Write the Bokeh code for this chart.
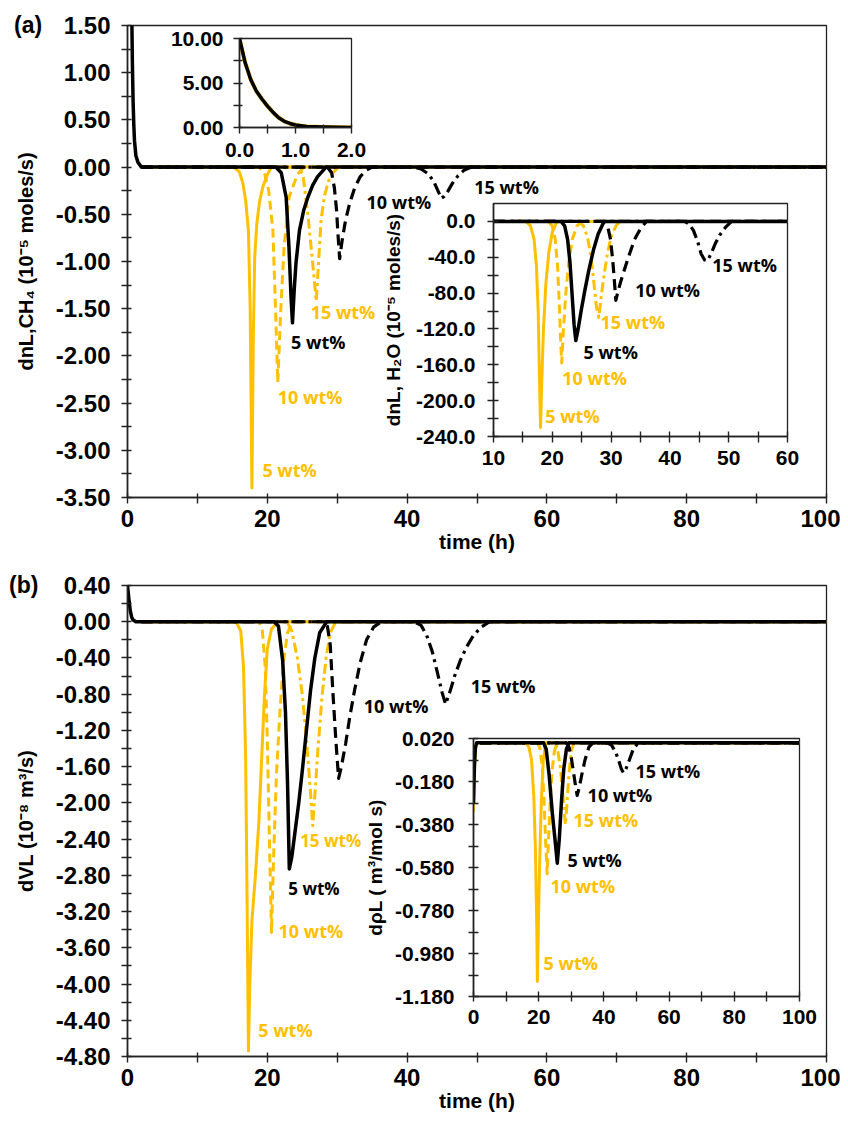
from bokeh.plotting import figure
from bokeh.models import Range1d, FixedTicker, NumeralTickFormatter, Label, GridBox, Div, Column
from bokeh.embed import file_html
from bokeh.resources import INLINE

# ---------------- data ----------------
# Panel (a): dn_L,CH4 (10^-5 moles/s) vs time (h)
A_T0 = [0, 0.1, 0.2, 0.3, 0.4, 0.5, 0.6, 0.7, 0.8, 0.9, 1.0, 1.2, 1.5, 2.0]
A_V0 = [10.0, 7.3, 5.4, 4.1, 3.2, 2.4, 1.7, 1.1, 0.7, 0.45, 0.28, 0.12, 0.05, 0.0]

A_Y5_T = [2, 15.2, 16.0, 16.5, 16.9, 17.3, 17.55, 17.8, 18.0, 18.2, 18.5, 18.9, 19.4, 20.0, 20.6, 100]
A_Y5_V = [0, 0, -0.05, -0.17, -0.35, -0.67, -1.5, -3.40, -1.8, -0.95, -0.6, -0.36, -0.2, -0.08, 0, 0]
A_Y10_T = [2, 18.8, 19.6, 20.2, 20.8, 21.2, 21.5, 21.9, 22.4, 23.1, 24.3, 25.2, 100]
A_Y10_V = [0, 0, -0.06, -0.25, -0.67, -1.55, -2.28, -1.55, -0.85, -0.32, -0.08, 0, 0]
A_Y15_T = [2, 24.4, 25.1, 25.8, 26.5, 27.0, 27.3, 27.7, 28.2, 28.8, 29.5, 30.2, 100]
A_Y15_V = [0, 0, -0.08, -0.5, -1.02, -1.42, -1.05, -0.55, -0.3, -0.14, -0.05, 0, 0]
A_B5_T = [2, 21.2, 22.0, 22.7, 23.1, 23.4, 23.6, 23.85, 24.1, 24.6, 25.2, 25.8, 26.5, 27.2, 28.4, 100]
A_B5_V = [0, 0, -0.06, -0.32, -0.85, -1.38, -1.65, -1.3, -1.02, -0.67, -0.46, -0.32, -0.19, -0.1, 0, 0]
A_B10_T = [2, 28.6, 29.2, 29.6, 29.9, 30.1, 30.35, 30.7, 31.2, 31.8, 32.5, 33.3, 34.2, 35.0, 100]
A_B10_V = [0, 0, -0.06, -0.22, -0.45, -0.7, -0.97, -0.78, -0.56, -0.38, -0.22, -0.1, -0.03, 0, 0]
A_B15_T = [2, 41.0, 42.0, 43.0, 43.8, 44.4, 44.9, 45.3, 45.8, 46.5, 47.3, 48.2, 49.2, 100]
A_B15_V = [0, 0, -0.02, -0.07, -0.15, -0.25, -0.33, -0.31, -0.26, -0.17, -0.09, -0.03, 0, 0]

# Inset of (a): dn_L,H2O (10^-5 moles/s)
W_Y5_T = [10, 15.5, 16.3, 16.9, 17.3, 17.6, 17.8, 18.0, 18.2, 18.5, 18.9, 19.4, 20.0, 20.8, 60]
W_Y5_V = [0, 0, -5, -20, -50, -100, -170, -230, -180, -120, -70, -35, -12, 0, 0]
W_Y10_T = [10, 19.3, 20.0, 20.5, 20.9, 21.2, 21.4, 21.6, 21.9, 22.3, 22.8, 23.4, 24.2, 25.0, 60]
W_Y10_V = [0, 0, -5, -20, -50, -95, -130, -158, -120, -80, -45, -20, -5, 0, 0]
W_Y15_T = [10, 24.5, 25.3, 26.0, 26.6, 27.1, 27.5, 27.9, 28.3, 28.8, 29.4, 30.1, 31.0, 32.0, 60]
W_Y15_V = [0, 0, -5, -18, -40, -70, -95, -107, -85, -60, -35, -15, -3, 0, 0]
W_B5_T = [10, 21.5, 22.1, 22.6, 23.0, 23.4, 23.7, 24.0, 24.4, 24.9, 25.5, 26.2, 27.0, 27.8, 28.8, 60]
W_B5_V = [0, 0, -5, -20, -45, -85, -115, -133, -120, -100, -78, -55, -32, -14, 0, 0]
W_B10_T = [10, 28.8, 29.4, 29.9, 30.3, 30.6, 30.8, 31.1, 31.6, 32.3, 33.1, 34.0, 35.0, 36.0, 60]
W_B10_V = [0, 0, -5, -20, -45, -70, -88, -80, -68, -53, -37, -20, -8, 0, 0]
W_B15_T = [10, 42.5, 43.3, 44.0, 44.7, 45.3, 45.9, 46.4, 47.0, 47.7, 48.5, 49.4, 50.5, 60]
W_B15_V = [0, 0, -3, -10, -22, -36, -43, -44, -36, -25, -15, -7, 0, 0]

# Panel (b): dV_L (10^-8 m3/s)
B_T0 = [0, 0.2, 0.4, 0.6, 0.8, 1.2, 2.0]
B_V0 = [0.40, 0.25, 0.12, 0.05, 0.02, 0.0, 0.0]
B_Y5_T = [2, 15.5, 16.2, 16.6, 16.9, 17.1, 17.3, 17.5, 17.8, 18.3, 18.8, 19.2, 19.6, 20.0, 20.6, 21.5, 100]
B_Y5_V = [0, 0, -0.1, -0.5, -1.5, -3.0, -4.74, -4.0, -3.3, -2.8, -2.2, -1.5, -0.8, -0.3, -0.08, 0, 0]
B_Y10_T = [2, 18.8, 19.3, 19.7, 20.0, 20.3, 20.6, 20.9, 21.3, 21.8, 22.3, 22.9, 23.6, 100]
B_Y10_V = [0, 0, -0.1, -0.5, -1.3, -2.4, -3.43, -2.6, -1.7, -1.0, -0.45, -0.12, 0, 0]
B_Y15_T = [2, 22.8, 23.5, 24.3, 25.0, 25.6, 26.1, 26.5, 26.9, 27.3, 27.8, 28.4, 29.0, 29.8, 100]
B_Y15_V = [0, 0, -0.1, -0.4, -0.8, -1.3, -1.8, -2.25, -1.8, -1.35, -0.85, -0.4, -0.12, 0, 0]
B_B5_T = [2, 21.0, 21.6, 22.2, 22.6, 22.9, 23.15, 23.5, 24.0, 24.5, 25.0, 25.6, 26.2, 26.8, 27.5, 28.5, 100]
B_B5_V = [0, 0, -0.05, -0.43, -1.0, -1.8, -2.73, -2.6, -2.3, -2.0, -1.65, -1.2, -0.75, -0.4, -0.12, 0, 0]
B_B10_T = [2, 28.0, 28.6, 29.0, 29.4, 29.8, 30.2, 30.6, 31.2, 31.8, 32.5, 33.3, 34.2, 35.2, 36.3, 100]
B_B10_V = [0, 0, -0.05, -0.25, -0.8, -1.3, -1.73, -1.6, -1.35, -1.05, -0.75, -0.45, -0.2, -0.06, 0, 0]
B_B15_T = [2, 41.0, 42.0, 42.8, 43.6, 44.3, 45.0, 45.5, 46.1, 46.8, 47.6, 48.5, 49.5, 50.6, 51.8, 100]
B_B15_V = [0, 0, -0.04, -0.15, -0.33, -0.55, -0.78, -0.91, -0.78, -0.6, -0.43, -0.28, -0.15, -0.06, 0, 0]

# Inset of (b): d rho_L (m3/mol s)
R_T0 = [0, 0.3, 0.6, 1.0, 2.0]
R_B0 = [-0.28, -0.1, -0.02, 0.0, 0.0]
R_Y0 = [-0.32, -0.12, -0.03, 0.0, 0.0]
R_Y5_T = [2, 16.0, 17.0, 17.8, 18.5, 19.0, 19.4, 19.6, 19.9, 20.3, 20.8, 21.4, 22.2, 100]
R_Y5_V = [0, 0, -0.02, -0.08, -0.25, -0.5, -0.85, -1.11, -0.85, -0.55, -0.28, -0.08, 0, 0]
R_Y10_T = [2, 19.5, 20.3, 21.0, 21.6, 22.1, 22.6, 23.0, 23.5, 24.1, 24.8, 25.6, 100]
R_Y10_V = [0, 0, -0.02, -0.1, -0.25, -0.45, -0.61, -0.45, -0.28, -0.13, -0.04, 0, 0]
R_Y15_T = [2, 25.0, 25.8, 26.5, 27.2, 27.7, 28.2, 28.7, 29.3, 30.0, 30.8, 100]
R_Y15_V = [0, 0, -0.03, -0.1, -0.2, -0.3, -0.38, -0.28, -0.14, -0.04, 0, 0]
R_B5_T = [2, 21.5, 22.3, 23.2, 24.2, 25.0, 25.7, 26.3, 27.0, 27.7, 28.5, 29.3, 100]
R_B5_V = [0, 0, -0.03, -0.15, -0.33, -0.45, -0.56, -0.45, -0.27, -0.12, -0.03, 0, 0]
R_B10_T = [2, 28.5, 29.3, 30.0, 30.7, 31.3, 31.8, 32.4, 33.2, 34.2, 35.4, 36.6, 100]
R_B10_V = [0, 0, -0.02, -0.07, -0.14, -0.2, -0.245, -0.21, -0.15, -0.08, -0.02, 0, 0]
R_B15_T = [2, 41.0, 42.3, 43.5, 44.5, 45.3, 46.0, 46.8, 47.8, 49.0, 50.5, 100]
R_B15_V = [0, 0, -0.01, -0.04, -0.08, -0.12, -0.14, -0.12, -0.08, -0.03, 0, 0]

# ticks
TIME_TICKS = [0, 20, 40, 60, 80, 100]
TIME_MINOR = [10, 30, 50, 70, 90]
A_YTICKS = [-3.5, -3.0, -2.5, -2.0, -1.5, -1.0, -0.5, 0.0, 0.5, 1.0, 1.5]
A_YMINOR = [-3.25, -2.75, -2.25, -1.75, -1.25, -0.75, -0.25, 0.25, 0.75, 1.25]
I1_XTICKS = [0, 1, 2]
I1_XMINOR = [0.5, 1.5]
I1_YTICKS = [0, 5, 10]
I1_YMINOR = [2.5, 7.5]
W_XTICKS = [10, 20, 30, 40, 50, 60]
W_XMINOR = [15, 25, 35, 45, 55]
W_YTICKS = [-240, -200, -160, -120, -80, -40, 0]
W_YMINOR = [-220, -180, -140, -100, -60, -20]
B_YTICKS = [0.4, 0.0, -0.4, -0.8, -1.2, -1.6, -2.0, -2.4, -2.8, -3.2, -3.6, -4.0, -4.4, -4.8]
B_YMINOR = [0.2, -0.2, -0.6, -1.0, -1.4, -1.8, -2.2, -2.6, -3.0, -3.4, -3.8, -4.2, -4.6]
R_YTICKS = [0.02, -0.18, -0.38, -0.58, -0.78, -0.98, -1.18]
R_YMINOR = [-0.08, -0.28, -0.48, -0.68, -0.88, -1.08]

GOLD = "#FFC000"
BLACK = "#000000"
FONT = "Liberation Sans"
ANNOT = "Open Sans"
MAIN_TICK = 24
INSET_TICK = 21


def make_fig(fw, fh, xr, yr, left, right, top, bottom, transparent):
    p = figure(frame_width=fw, frame_height=fh, x_range=Range1d(*xr), y_range=Range1d(*yr),
               output_backend="svg", toolbar_location=None, title=None,
               min_border_left=left, min_border_right=right,
               min_border_top=top, min_border_bottom=bottom)
    p.xgrid.visible = False
    p.ygrid.visible = False
    p.outline_line_color = "#222222"
    p.outline_line_width = 1.3
    p.background_fill_color = "white"
    p.border_fill_color = None if transparent else "white"
    p.xaxis[0].axis_label = None
    p.yaxis[0].axis_label = None
    return p


def style_axis(ax, ticks, minor, fmt, size, standoff, tin=4, tout=6):
    ax.ticker = FixedTicker(ticks=ticks, minor_ticks=minor)
    ax.formatter = NumeralTickFormatter(format=fmt)
    ax.major_label_text_font = FONT
    ax.major_label_text_font_style = "bold"
    ax.major_label_text_font_size = f"{size}px"
    ax.major_label_text_color = "black"
    ax.axis_line_color = "#222222"
    ax.axis_line_width = 1.6
    ax.major_tick_line_color = "#222222"
    ax.minor_tick_line_color = "#222222"
    ax.major_tick_line_width = 1.4
    ax.minor_tick_line_width = 1.4
    ax.major_tick_in = tin
    ax.major_tick_out = tout
    ax.minor_tick_in = tin
    ax.minor_tick_out = tout
    ax.major_label_standoff = standoff


def axis_label(ax, text, size, standoff):
    ax.axis_label = text
    ax.axis_label_text_font = FONT
    ax.axis_label_text_font_style = "bold"
    ax.axis_label_text_font_size = f"{size}px"
    ax.axis_label_text_color = "black"
    ax.axis_label_standoff = standoff


def curve(p, t, v, color, dash="solid", width=3.0):
    p.line(t, v, line_color=color, line_width=width, line_dash=dash,
           line_join="round", line_cap="butt")


def note(p, x, y, text, color, size=18):
    p.add_layout(Label(x=x, y=y, text=text, text_color=color, text_font=ANNOT,
                       text_font_style="bold", text_font_size=f"{size}px",
                       text_align="left", text_baseline="middle"))


def place(item, top, left):
    # wrap so that the grid does not align frames of overlapping plots
    return Column(children=[item], margin=(top, 0, 0, left))


def panel_tag(text, top, left):
    return Div(text=text, width=40, height=28, margin=(top, 0, 0, left),
               styles={"font-family": FONT, "font-weight": "bold", "font-size": "23px",
                       "line-height": "26px", "color": "black"})


DASH_Y = "9 5"
DASHDOT_Y = "10 4 3 4"
DASH_B = "11 6"
DASHDOT_B = "12 5 3 5"

# ---------------- panel (a) ----------------
pa = make_fig(699, 472, (0, 100), (-3.5, 1.5), 119, 14, 17, 66, False)
style_axis(pa.xaxis[0], TIME_TICKS, TIME_MINOR, "0", MAIN_TICK, 6)
style_axis(pa.yaxis[0], A_YTICKS, A_YMINOR, "0.00", MAIN_TICK, 11)
axis_label(pa.xaxis[0], "time (h)", 21, 0)
axis_label(pa.yaxis[0], "dnL,CH\u2084 (10\u207b\u2075 moles/s)", 20, 16)
curve(pa, A_Y5_T, A_Y5_V, GOLD, "solid", 3.0)
curve(pa, A_Y10_T, A_Y10_V, GOLD, DASH_Y, 3.0)
curve(pa, A_Y15_T, A_Y15_V, GOLD, DASHDOT_Y, 3.0)
curve(pa, A_B15_T, A_B15_V, BLACK, DASHDOT_B, 3.2)
curve(pa, A_B10_T, A_B10_V, BLACK, DASH_B, 3.2)
curve(pa, A_T0 + A_B5_T, A_V0 + A_B5_V, BLACK, "solid", 3.5)
note(pa, 34.2, -0.37, "10 wt%", BLACK)
note(pa, 49.6, -0.21, "15 wt%", BLACK)
note(pa, 26.2, -1.54, "15 wt%", GOLD)
note(pa, 23.4, -1.85, "5 wt%", BLACK)
note(pa, 21.5, -2.44, "10 wt%", GOLD)
note(pa, 19.3, -3.21, "5 wt%", GOLD)

# inset (a1): early-time CH4 transient
ia1 = make_fig(112, 89, (0, 2), (0, 10), 85, 20, 14, 45, True)
style_axis(ia1.xaxis[0], I1_XTICKS, I1_XMINOR, "0.0", INSET_TICK, 9, 3, 6)
style_axis(ia1.yaxis[0], I1_YTICKS, I1_YMINOR, "0.00", INSET_TICK, 10, 3, 6)
curve(ia1, A_T0, A_V0, GOLD, "solid", 4.0)
curve(ia1, A_T0, A_V0, BLACK, "solid", 3.5)

# inset (a2): H2O
ia2 = make_fig(294, 233, (10, 60), (-240, 20), 118, 20, 12, 45, True)
style_axis(ia2.xaxis[0], W_XTICKS, W_XMINOR, "0", INSET_TICK, 8, 5, 6)
style_axis(ia2.yaxis[0], W_YTICKS, W_YMINOR, "0.0", INSET_TICK, 12, 5, 6)
axis_label(ia2.yaxis[0], "dnL, H\u2082O (10\u207b\u2075 moles/s)", 19, 9)
curve(ia2, W_Y5_T, W_Y5_V, GOLD, "solid", 3.0)
curve(ia2, W_Y10_T, W_Y10_V, GOLD, DASH_Y, 3.0)
curve(ia2, W_Y15_T, W_Y15_V, GOLD, DASHDOT_Y, 3.0)
curve(ia2, W_B15_T, W_B15_V, BLACK, DASHDOT_B, 3.2)
curve(ia2, W_B10_T, W_B10_V, BLACK, DASH_B, 3.2)
curve(ia2, W_B5_T, W_B5_V, BLACK, "solid", 3.5)
note(ia2, 47.2, -49, "15 wt%", BLACK)
note(ia2, 34.1, -77, "10 wt%", BLACK)
note(ia2, 28.2, -112, "15 wt%", GOLD)
note(ia2, 25.3, -146, "5 wt%", BLACK)
note(ia2, 21.7, -175, "10 wt%", GOLD)
note(ia2, 18.8, -217, "5 wt%", GOLD)

# ---------------- panel (b) ----------------
pb = make_fig(699, 471, (0, 100), (-4.8, 0.4), 119, 14, 22, 64, False)
style_axis(pb.xaxis[0], TIME_TICKS, TIME_MINOR, "0", MAIN_TICK, 6)
style_axis(pb.yaxis[0], B_YTICKS, B_YMINOR, "0.00", MAIN_TICK, 11)
axis_label(pb.xaxis[0], "time (h)", 21, 0)
axis_label(pb.yaxis[0], "dVL (10\u207b\u2078 m\u00b3/s)", 20, 16)
curve(pb, B_Y5_T, B_Y5_V, GOLD, "solid", 3.0)
curve(pb, B_Y10_T, B_Y10_V, GOLD, DASH_Y, 3.0)
curve(pb, B_Y15_T, B_Y15_V, GOLD, DASHDOT_Y, 3.0)
curve(pb, B_B15_T, B_B15_V, BLACK, DASHDOT_B, 3.2)
curve(pb, B_B10_T, B_B10_V, BLACK, DASH_B, 3.2)
curve(pb, B_T0 + B_B5_T, B_V0 + B_B5_V, BLACK, "solid", 3.5)
note(pb, 33.8, -0.93, "10 wt%", BLACK)
note(pb, 49.1, -0.71, "15 wt%", BLACK)
note(pb, 24.7, -2.42, "15 wt%", GOLD, 17)
note(pb, 23.0, -2.95, "5 wt%", BLACK, 17)
note(pb, 21.6, -3.41, "10 wt%", GOLD)
note(pb, 18.7, -4.51, "5 wt%", GOLD)

# inset (b): density change
ib = make_fig(326, 258, (0, 100), (-1.18, 0.02), 118, 22, 14, 45, True)
style_axis(ib.xaxis[0], TIME_TICKS, TIME_MINOR, "0", INSET_TICK, 8, 5, 5)
style_axis(ib.yaxis[0], R_YTICKS, R_YMINOR, "0.000", INSET_TICK, 14, 5, 5)
axis_label(ib.yaxis[0], "d\u03c1L ( m\u00b3/mol s)", 19, 6)
curve(ib, R_T0 + R_Y5_T, R_Y0 + R_Y5_V, GOLD, "solid", 3.0)
curve(ib, R_Y10_T, R_Y10_V, GOLD, DASH_Y, 3.0)
curve(ib, R_Y15_T, R_Y15_V, GOLD, DASHDOT_Y, 3.0)
curve(ib, R_B15_T, R_B15_V, BLACK, DASHDOT_B, 3.2)
curve(ib, R_B10_T, R_B10_V, BLACK, DASH_B, 3.2)
curve(ib, R_T0 + R_B5_T, R_B0 + R_B5_V, BLACK, "solid", 3.5)
note(ib, 49.7, -0.129, "15 wt%", BLACK)
note(ib, 35.0, -0.245, "10 wt%", BLACK)
note(ib, 30.7, -0.361, "15 wt%", GOLD)
note(ib, 28.8, -0.547, "5 wt%", BLACK)
note(ib, 23.6, -0.668, "10 wt%", GOLD)
note(ib, 21.5, -1.022, "5 wt%", GOLD)

tag_a = panel_tag("(a)", 12, 14)
tag_b = panel_tag("(b)", 572, 9)

layout = GridBox(children=[(place(pa, 8, 8), 0, 0), (place(pb, 563, 8), 0, 0),
                           (place(ia1, 24, 154), 0, 0), (place(ia2, 191, 375), 0, 0),
                           (place(ib, 724, 355), 0, 0),
                           (tag_a, 0, 0), (tag_b, 0, 0)])

open("out.html", "w").write(file_html(layout, INLINE))
